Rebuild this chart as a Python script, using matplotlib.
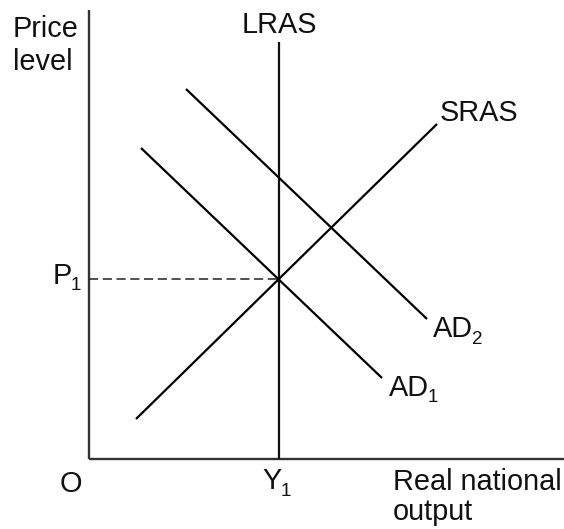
import matplotlib
matplotlib.use("Agg")
import matplotlib.pyplot as plt

plt.rcParams['font.family'] = ['Liberation Sans', 'DejaVu Sans']

# ---- data (diagram units; origin at O) ----
Y1 = 19.0
P1 = 18.0
lras_x = [Y1, Y1]
lras_y = [0.0, 41.7]
sras_x = [4.75, 34.85]
sras_y = [4.0, 33.5]
ad1_x = [5.25, 29.35]
ad1_y = [31.1, 8.1]
ad2_x = [9.75, 33.85]
ad2_y = [37.0, 14.0]
yaxis_top = 44.9
xaxis_right = 47.6

fig = plt.figure(figsize=(5.64, 5.29), dpi=100)
ax = fig.add_axes([0, 0, 1, 1])
ax.set_xlim(-8.85, 47.55)
ax.set_ylim(-7.0, 45.9)
ax.axis('off')

axc = '#333333'
ax.plot([0, 0], [0, yaxis_top], color=axc, lw=1.7, solid_capstyle='butt')
ax.plot([0, xaxis_right], [0, 0], color=axc, lw=1.7, solid_capstyle='butt')

lw = 1.6
ax.plot(lras_x, lras_y, color='#111111', lw=lw, solid_capstyle='butt')
ax.plot(sras_x, sras_y, color='black', lw=lw, solid_capstyle='butt')
ax.plot(ad1_x, ad1_y, color='black', lw=lw, solid_capstyle='butt')
ax.plot(ad2_x, ad2_y, color='black', lw=lw, solid_capstyle='butt')
ax.plot([0, Y1], [P1, P1], color='#222222', lw=1.1, dashes=(6, 3))

fs = 20.8
sub_fs = 13.5
renderer = fig.canvas.get_renderer()


def label(x, y, main, sub=None):
    t = ax.text(x, y, main, fontsize=fs, ha='left', va='baseline', color='#111111')
    if sub is not None:
        bb = t.get_window_extent(renderer=renderer)
        x0 = ax.transData.transform((x, y))[0]
        w = bb.x1 - x0
        ax.annotate(sub, xy=(x, y), xycoords='data',
                    xytext=(w - 1, -6.5), textcoords='offset pixels',
                    fontsize=sub_fs, ha='left', va='baseline', color='#111111')
    return t


label(-7.55, 42.2, 'Price')
label(-7.55, 38.9, 'level')
ax.text(Y1 + 0.05, 42.6, 'LRAS', fontsize=fs, ha='center', va='baseline', color='#111111')
label(35.15, 33.8, 'SRAS')
label(34.45, 12.2, 'AD', '2')
label(30.05, 6.3, 'AD', '1')
label(-3.6, 17.5, 'P', '1')
label(-2.85, -3.3, 'O')
label(17.4, -3.0, 'Y', '1')
label(30.45, -3.15, 'Real national')
label(30.45, -6.1, 'output')

fig.savefig('out.png', dpi=100)
